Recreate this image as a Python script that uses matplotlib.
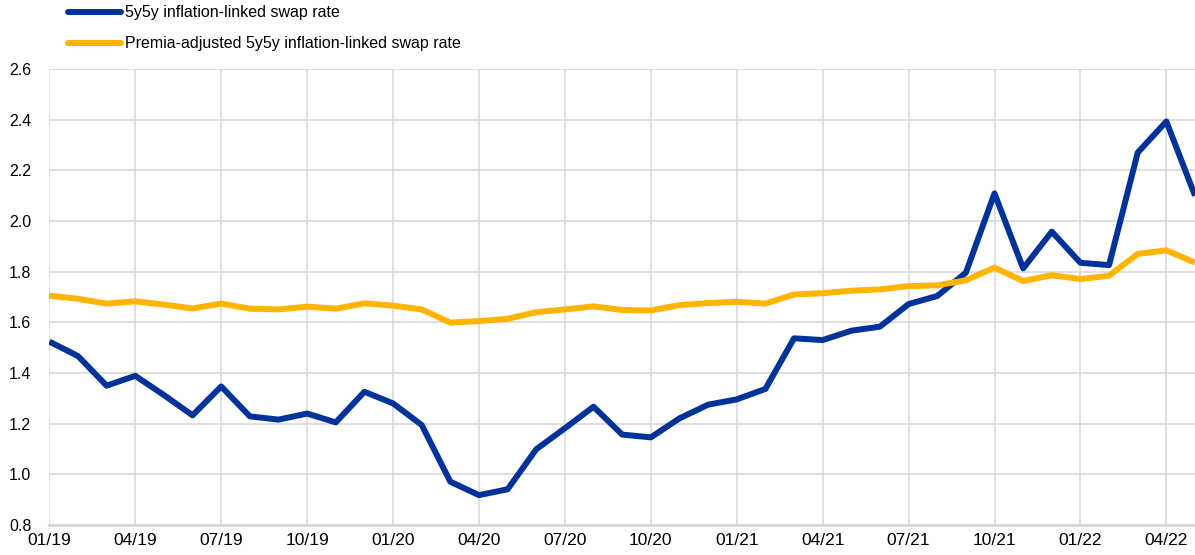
import matplotlib.pyplot as plt

# monthly observations, 01/19 to 05/22
months = list(range(41))
tick_labels = ["01/19", "04/19", "07/19", "10/19", "01/20", "04/20", "07/20",
               "10/20", "01/21", "04/21", "07/21", "10/21", "01/22", "04/22"]

swap_rate = [1.524, 1.467, 1.350, 1.389, 1.313, 1.233, 1.347, 1.229, 1.216, 1.240,
             1.205, 1.326, 1.280, 1.195, 0.971, 0.918, 0.941, 1.099, 1.182, 1.267,
             1.157, 1.146, 1.221, 1.275, 1.296, 1.337, 1.537, 1.530, 1.567, 1.583,
             1.672, 1.704, 1.796, 2.109, 1.813, 1.958, 1.835, 1.826, 2.270, 2.393,
             2.100]

premia_adjusted = [1.705, 1.693, 1.674, 1.683, 1.670, 1.655, 1.674, 1.654, 1.651, 1.662,
                   1.654, 1.675, 1.666, 1.651, 1.599, 1.605, 1.614, 1.640, 1.651, 1.663,
                   1.649, 1.647, 1.668, 1.676, 1.681, 1.674, 1.710, 1.715, 1.725, 1.730,
                   1.743, 1.746, 1.766, 1.816, 1.763, 1.786, 1.771, 1.784, 1.870, 1.884,
                   1.836]

blue = "#003299"
yellow = "#ffb400"

plt.rcParams['font.family'] = ['Liberation Sans', 'DejaVu Sans']

fig = plt.figure(figsize=(11.95, 5.55), dpi=100)
ax = fig.add_axes([0.0413, 0.054, 0.9587, 0.8217])

ax.plot(months, swap_rate, color=blue, lw=4.3, solid_capstyle='butt',
        label="5y5y inflation-linked swap rate", zorder=3)
ax.plot(months, premia_adjusted, color=yellow, lw=4.3, solid_capstyle='butt',
        label="Premia-adjusted 5y5y inflation-linked swap rate", zorder=3)

ax.set_xlim(0, 40)
ax.set_ylim(0.8, 2.6)
ax.set_yticks([0.8, 1.0, 1.2, 1.4, 1.6, 1.8, 2.0, 2.2, 2.4, 2.6])
ax.set_yticklabels([f"{v:.1f}" for v in ax.get_yticks()])
ax.set_xticks(range(0, 40, 3))
ax.set_xticklabels(tick_labels,
                   fontfamily=['Liberation Sans Narrow', 'Liberation Sans'])

ax.grid(True, color="#d9d9d9", lw=1.2)
ax.set_axisbelow(True)
for s in ["top", "right", "left"]:
    ax.spines[s].set_visible(False)
ax.spines["bottom"].set_color("#d9d9d9")
ax.spines["bottom"].set_linewidth(2.2)
ax.tick_params(axis="both", length=0, labelsize=11.5, colors="#000000")
ax.tick_params(axis="y", pad=13)
ax.tick_params(axis="x", pad=6, labelsize=12.5)

leg = fig.legend(loc="upper left", bbox_to_anchor=(0.045, 1.016), frameon=False,
                 fontsize=11.5, handlelength=3.3, handletextpad=0.25,
                 labelspacing=1.0)
for line in leg.get_lines():
    line.set_linewidth(4.3)
    line.set_solid_capstyle('round')

fig.savefig("out.png", dpi=100)
